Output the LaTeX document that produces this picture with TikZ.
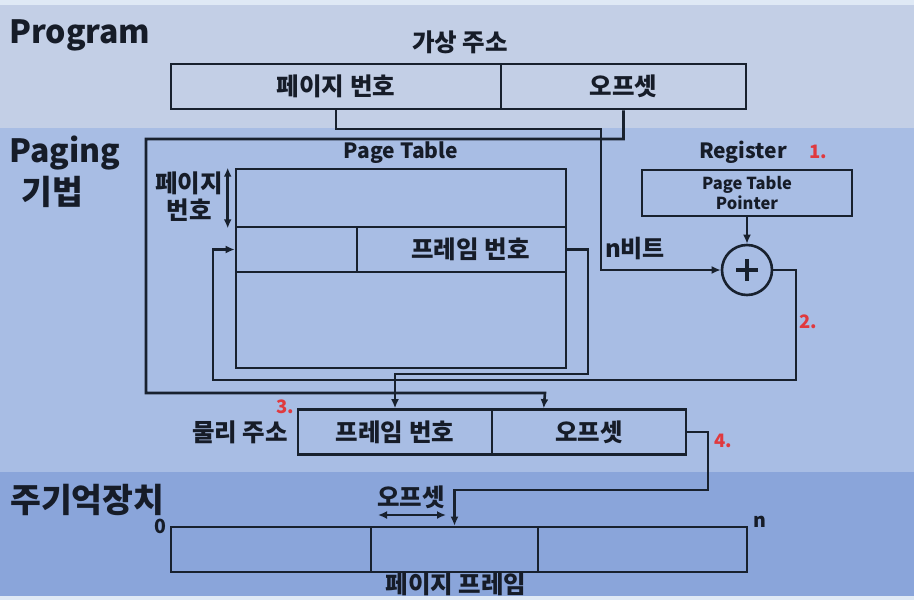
\documentclass[tikz,border=0pt]{standalone}
\usepackage{fontspec}
\setmainfont{Noto Sans CJK KR}
\usetikzlibrary{arrows.meta,calc}
\definecolor{topc}{HTML}{DFE9F5}
\definecolor{bandA}{HTML}{C3CFE6}
\definecolor{bandB}{HTML}{A8BDE4}
\definecolor{bandC}{HTML}{8AA5DA}
\definecolor{ink}{HTML}{18212E}
\definecolor{txt}{HTML}{161C28}
\definecolor{redno}{HTML}{E0393E}
\newcommand\kfont{\bfseries\fontsize{24.5}{27}\selectfont}
\newcommand\bigfont{\bfseries\fontsize{32}{36}\selectfont}
\newcommand\bigkfont{\bfseries\fontsize{33.5}{36}\selectfont}
\begin{document}
\begin{tikzpicture}[x=1pt,y=-1pt,
  cell/.style={draw=ink, line width=2.6pt, minimum height=45pt, inner sep=0pt, font=\kfont, text=txt},
  lbl/.style={inner sep=0pt, font=\kfont, text=txt},
  biglbl/.style={inner sep=0pt, font=\bigfont, text=txt, anchor=base west},
  enlbl/.style={inner sep=0pt, font=\bfseries\fontsize{21}{24}\selectfont, text=txt},
  rednum/.style={inner sep=0pt, font=\bfseries\fontsize{18.5}{22}\selectfont, text=redno},
  conn/.style={draw=ink, line width=2.6pt},
  arr/.style={conn, -{Latex[length=9pt,width=8pt]}},
  darr/.style={conn, {Latex[length=9pt,width=8pt]}-{Latex[length=9pt,width=8pt]}}
]
\useasboundingbox (0,0) rectangle (914,600);
% background bands
\fill[topc] (0,0) rectangle (914,600);
\fill[bandA] (0,5) rectangle (914,128);
\fill[bandB] (0,128) rectangle (914,472);
\fill[bandC] (0,472) rectangle (914,596);

% section labels
\node[biglbl] (lprog) at (9,43) {Program};
\node[biglbl] (lpag) at (9,162) {Paging};
\node[biglbl, font=\bigkfont] (lkb) at (21,204) {기법};
\node[biglbl, font=\bigkfont] (lmem) at (10,512) {주기억장치};

% virtual address
\node[lbl] (vatitle) at (460,42) {가상 주소};
\node[cell, minimum width=330pt] (vapn) at (336,86.5) {페이지 번호};
\node[cell, minimum width=245pt] (vaoff) at (623.5,86.5) {오프셋};

% page table
\node[enlbl] (pttitle) at (401,153) {Page Table};
\node[cell, minimum width=330pt, minimum height=58pt] (row1) at (401,198) {};
\node[cell, minimum width=121pt] (row2l) at (296.5,249.5) {};
\node[cell, minimum width=209pt] (row2r) at (461.5,249.5) {\hspace*{18pt}프레임 번호};
\node[cell, minimum width=330pt, minimum height=96pt] (row3) at (401,320) {};
\node[lbl, align=center] (pnlbl) at (189,197) {페이지\\번호};
\draw[darr] ($(row1.north west)+(-7,0)$) -- ($(row1.south west)+(-7,0)$);

% register and adder
\node[enlbl, anchor=base] (reglbl) at (743,158) {Register};
\node[rednum, anchor=base] (n1) at (818,158) {1.};
\node[cell, minimum width=210pt, minimum height=46pt, align=center,
      font=\bfseries\fontsize{16.5}{20}\selectfont] (reg) at (747,193) {Page Table\\Pointer};
\node[draw=ink, line width=2.6pt, circle, minimum size=50pt, inner sep=0pt] (adder) at (747,270) {};
\draw[ink, line width=4.5pt] ($(adder.center)+(-11,0)$) -- ($(adder.center)+(11,0)$);
\draw[ink, line width=4.5pt] ($(adder.center)+(0,-11)$) -- ($(adder.center)+(0,11)$);
\node[lbl, font=\bfseries\fontsize{24}{26}\selectfont] (nbit) at (635,249) {n비트};
\node[rednum] (n2) at (808,322) {2.};

% physical address
\node[lbl] (palbl) at (240,432) {물리 주소};
\node[rednum] (n3) at (285,407) {3.};
\node[cell, minimum width=194pt] (pafn) at (395,432) {프레임 번호};
\node[cell, minimum width=194pt] (paoff) at (589,432) {오프셋};
\node[rednum] (n4) at (723,441) {4.};

% main memory
\node[lbl] (offlbl) at (411,497) {오프셋};
\coordinate (oa) at (378,515);
\coordinate (ob) at (446,515);
\draw[darr] (oa) -- (ob);
\node[cell, minimum width=200pt] (pf1) at (271,549.5) {};
\node[cell, minimum width=167pt] (pf2) at (454.5,549.5) {};
\node[cell, minimum width=209pt] (pf3) at (642.5,549.5) {};
\node[inner sep=0pt, font=\bfseries\fontsize{19.5}{22}\selectfont, text=txt] (z0) at (160,526) {0};
\node[inner sep=0pt, font=\bfseries\fontsize{19.5}{22}\selectfont, text=txt] (zn) at (760,522) {n};
\node[lbl] (pflbl) at (456,584) {페이지 프레임};

% connectors
\draw[arr] (vapn.south) |- (601,129) |- (adder.west);
\draw[arr] (vaoff.south) |- (146,139) |- (545,393) -- ($(paoff.north west)+(53,0)$);
\draw[arr] (reg.south) -- (adder.north);
\draw[arr] (adder.east) -| (796,380) -| (213,249.5) -- (row2l.west);
\draw[arr] (row2r.east) -| (588,374) -| (pafn.north);
\draw[arr] (paoff.east) -| (708,490) -| (pf2.north);
\end{tikzpicture}
\end{document}
